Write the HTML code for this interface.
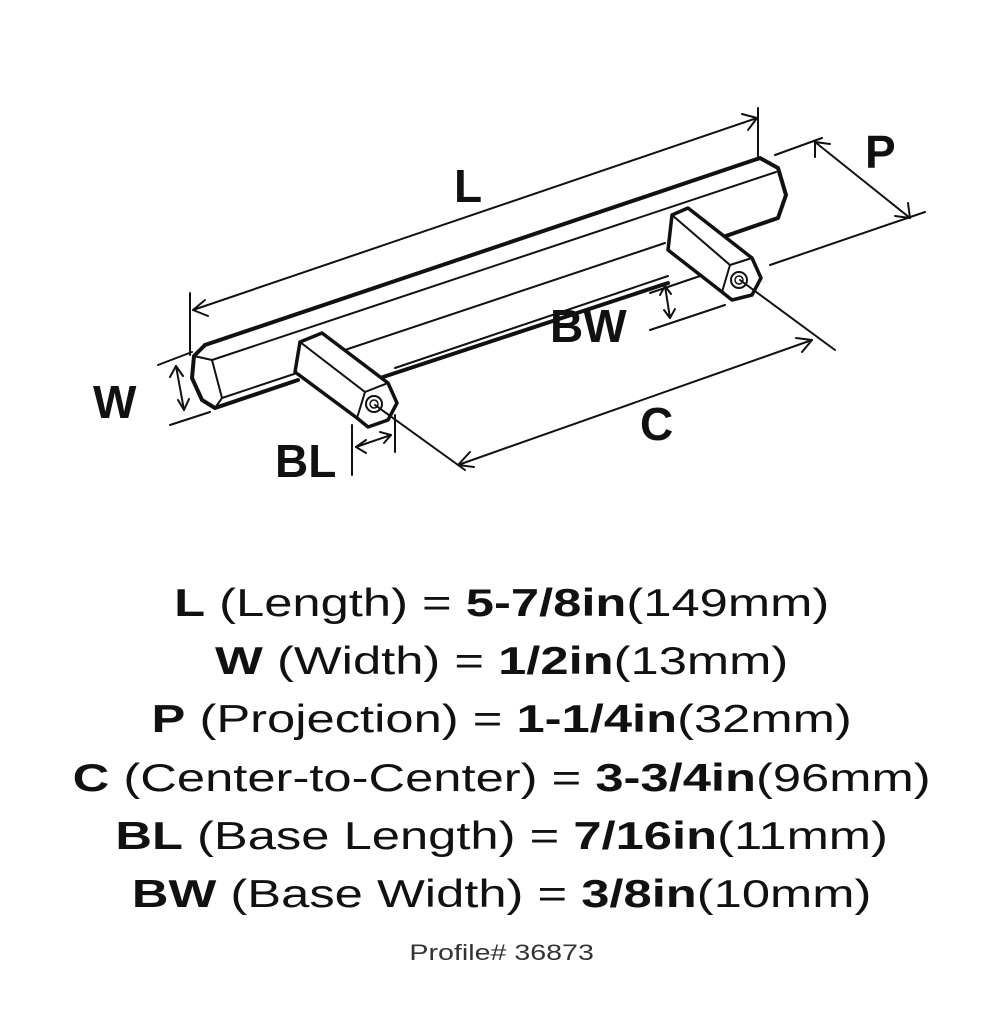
<!DOCTYPE html>
<html><head><style>
html,body{margin:0;padding:0;background:#fff;}
body{width:1003px;height:1024px;position:relative;overflow:hidden;font-family:"Liberation Sans",sans-serif;color:#111;}
.t{position:absolute;left:0;width:1003px;text-align:center;font-size:39px;white-space:nowrap;transform:scaleX(1.3);transform-origin:501px 0;}
.t b{font-weight:bold;}
.p{position:absolute;left:0;width:1003px;text-align:center;font-size:22px;color:#333;top:940px;transform:scaleX(1.3);transform-origin:501px 0;}
</style></head><body>
<svg width="1003" height="540" style="position:absolute;left:0;top:0" fill="none" stroke="#111" stroke-linecap="round" stroke-linejoin="round">
<path d="M205,345 L760,158 L778,168 L786,195 L778,218 L720,238" stroke-width="4"/>
<path d="M205,345 L194,356 L192,378 L202,400 L215,408 L298,380" stroke-width="4"/>
<path d="M194,356 L212,360 L222,398 L215,408" stroke-width="2"/>
<path d="M212,360 L776,172" stroke-width="2"/>
<path d="M222,398 L300,372" stroke-width="2"/>
<path d="M330,355 L665,243" stroke-width="2"/>
<path d="M380,378 L668,283" stroke-width="4"/>
<path d="M395,368 L668,276" stroke-width="2"/>
<path d="M300,342 L322,333 L388,383 L397,403 L388,420 L368,427 L357,418 L295,372 Z" stroke-width="3.5" fill="#fff"/>
<path d="M300,342 L365,392 L388,383 M365,392 L357,418" stroke-width="2"/>
<circle cx="374" cy="404" r="8" stroke-width="2"/><circle cx="374" cy="404" r="4" stroke-width="1.5"/>
<path d="M672,215 L688,208 L752,258 L761,278 L752,295 L732,300 L722,292 L668,250 Z" stroke-width="3.5" fill="#fff"/>
<path d="M672,215 L730,265 L752,258 M730,265 L722,292" stroke-width="2"/>
<circle cx="739" cy="280" r="8" stroke-width="2"/><circle cx="739" cy="280" r="4" stroke-width="1.5"/>
<g stroke-width="2">
<path d="M190,293 L190,355 M758,108 L758,160 M193,310 L757,118"/>
<path d="M205,300 L193,310 L208,316 M742,114 L757,118 L748,130"/>
<path d="M775,155 L822,138 M770,265 L925,212 M815,142 L910,218"/>
<path d="M815,157 L815,142 L830,144 M895,216 L910,218 L908,203"/>
<path d="M158,365 L192,352 M170,425 L210,412 M176,366 L184,410"/>
<path d="M170,377 L176,366 L183,376 M178,400 L184,410 L189,399"/>
<path d="M650,293 L700,276 M650,330 L725,305 M665,286 L670,318"/>
<path d="M660,295 L665,286 L671,294 M664,310 L670,318 L675,309"/>
<path d="M375,405 L465,470 M740,280 L835,350 M458,465 L812,340"/>
<path d="M470,452 L458,465 L474,467 M796,338 L812,340 L802,352"/>
<path d="M352,425 L352,475 M395,415 L395,452 M356,447 L391,435"/>
<path d="M366,440 L356,447 L366,453 M380,432 L391,435 L384,443"/>
</g>
<g fill="#111" stroke="none" font-family="Liberation Sans, sans-serif" font-size="46" font-weight="bold">
<text x="454" y="202">L</text>
<text x="865" y="168">P</text>
<text x="93" y="418">W</text>
<text x="550" y="342">BW</text>
<text x="640" y="440">C</text>
<text x="275" y="477">BL</text>
</g>
</svg>
<div class="t" style="top:582px"><b>L</b> (Length) = <b>5-7/8in</b>(149mm)</div>
<div class="t" style="top:640px"><b>W</b> (Width) = <b>1/2in</b>(13mm)</div>
<div class="t" style="top:698px"><b>P</b> (Projection) = <b>1-1/4in</b>(32mm)</div>
<div class="t" style="top:757px"><b>C</b> (Center-to-Center) = <b>3-3/4in</b>(96mm)</div>
<div class="t" style="top:815px"><b>BL</b> (Base Length) = <b>7/16in</b>(11mm)</div>
<div class="t" style="top:873px"><b>BW</b> (Base Width) = <b>3/8in</b>(10mm)</div>
<div class="p">Profile# 36873</div>
</body></html>
